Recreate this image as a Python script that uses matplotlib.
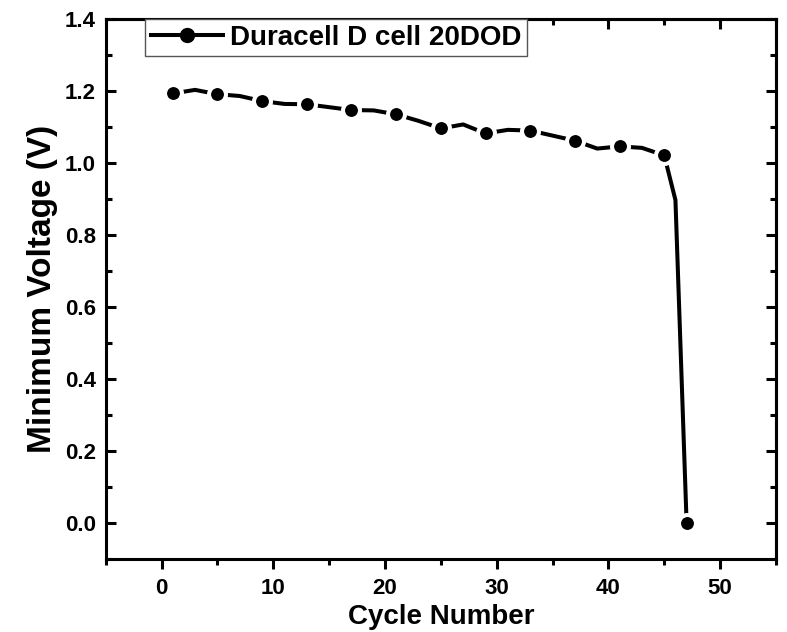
import matplotlib
matplotlib.use("Agg")
import matplotlib.pyplot as plt
from matplotlib.lines import Line2D
from matplotlib.ticker import MultipleLocator

plt.rcParams["font.family"] = ["Liberation Sans", "DejaVu Sans"]
plt.rcParams["font.weight"] = "bold"

# minimum voltage per cycle (every other cycle, plus the final drop)
cycles = [1, 3, 5, 7, 9, 11, 13, 15, 17, 19, 21, 23, 25, 27, 29, 31, 33,
          35, 37, 39, 41, 43, 45, 46, 47]
min_voltage = [1.193, 1.203, 1.191, 1.186, 1.172, 1.164, 1.163, 1.155, 1.147,
               1.146, 1.135, 1.117, 1.096, 1.107, 1.082, 1.092, 1.090, 1.076,
               1.062, 1.040, 1.046, 1.042, 1.021, 0.897, 0.0]
marked = [1, 5, 9, 13, 17, 21, 25, 29, 33, 37, 41, 45, 47]
label = "Duracell D cell 20DOD"

fig = plt.figure(figsize=(7.87, 6.32), dpi=100)
ax = fig.add_axes([0.1343, 0.1155, 0.8517, 0.8545])

mark_idx = [cycles.index(c) for c in marked]
ax.plot(cycles, min_voltage, color="black", lw=2.9, marker="o",
        markevery=mark_idx, ms=12.2, mfc="black", mec="white", mew=2.9,
        solid_capstyle="butt")

ax.set_xlim(-5, 55)
ax.set_ylim(-0.1, 1.4)
ax.xaxis.set_major_locator(MultipleLocator(10))
ax.xaxis.set_minor_locator(MultipleLocator(5))
ax.yaxis.set_major_locator(MultipleLocator(0.2))
ax.yaxis.set_minor_locator(MultipleLocator(0.1))
ax.yaxis.set_major_formatter(plt.FormatStrFormatter("%.1f"))

for s in ax.spines.values():
    s.set_linewidth(2.2)
ax.tick_params(axis="x", which="both", direction="out", width=2.2,
               labelsize=16, pad=7, top=False)
ax.tick_params(axis="y", which="both", direction="in", width=2.2,
               labelsize=16, pad=7, right=False)
ax.tick_params(which="major", length=7)
ax.tick_params(which="minor", length=4)

# opposite spines carry inward ticks without labels
sec_x = ax.secondary_xaxis("top")
sec_x.xaxis.set_major_locator(MultipleLocator(10))
sec_x.xaxis.set_minor_locator(MultipleLocator(5))
sec_x.tick_params(which="both", direction="in", width=2.2, labeltop=False)
sec_x.tick_params(which="major", length=7)
sec_x.tick_params(which="minor", length=4)
sec_x.spines["top"].set_linewidth(2.2)
sec_y = ax.secondary_yaxis("right")
sec_y.yaxis.set_major_locator(MultipleLocator(0.2))
sec_y.yaxis.set_minor_locator(MultipleLocator(0.1))
sec_y.tick_params(which="both", direction="in", width=2.2, labelright=False)
sec_y.tick_params(which="major", length=7)
sec_y.tick_params(which="minor", length=4)
sec_y.spines["right"].set_linewidth(2.2)

ax.set_xlabel("Cycle Number", fontsize=20, fontweight="bold", labelpad=3)
ax.set_ylabel("Minimum Voltage (V)", fontsize=24, fontweight="bold", labelpad=5)

handle = Line2D([], [], color="black", lw=2.9, marker="o", ms=10, mfc="black", mec="black")
leg = ax.legend([handle], [label], loc="upper left", bbox_to_anchor=(0.059, 1.0),
                frameon=True, fancybox=False, framealpha=1,
                handlelength=2.6, borderpad=0.2, handletextpad=0.25,
                borderaxespad=0.0,
                prop={"weight": "bold", "size": 20})
leg.get_frame().set_edgecolor("#555555")
leg.get_frame().set_linewidth(1.0)

fig.savefig("out.png", dpi=100)
